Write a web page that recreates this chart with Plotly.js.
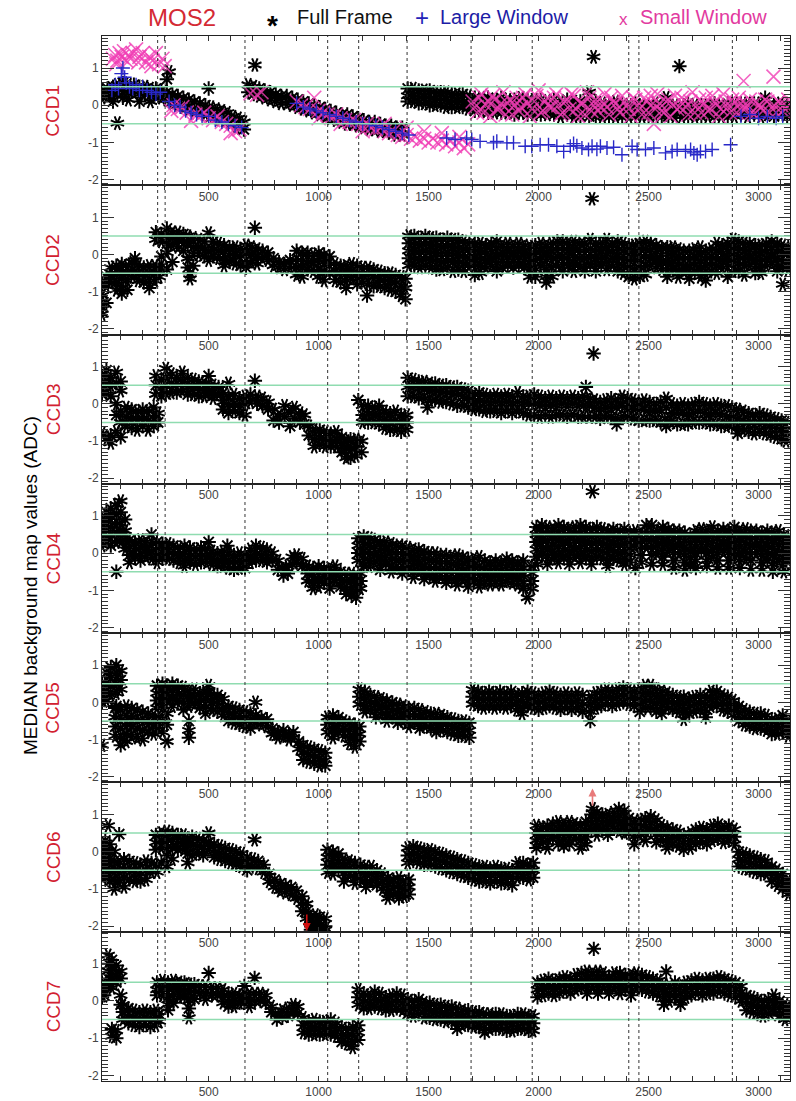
<!DOCTYPE html>
<html><head><meta charset="utf-8">
<script src="https://cdn.plot.ly/plotly-3.0.1.min.js"></script>
<style>html,body{margin:0;padding:0;background:#fff}#chart{width:796px;height:1101px}</style>
</head><body><div id="chart"></div>
<script>
// ---------------- data ----------------
const ccdNames = ['CCD1','CCD2','CCD3','CCD4','CCD5','CCD6','CCD7'];
const revBoundaries = [268, 302, 665, 1041, 1182, 1402, 1693, 1971, 2410, 2456, 2881];
const limitLines = [0.5, -0.5];
const yTickVals = [-2, -1, 0, 1];
const yTickText = ['-2', '-1', '0', '1'];

// Full Frame (black asterisks): x columns and the y values seen in each column
const ffX1 = [15,40,65,85,110,135,160,185,210,235,260,
  285,310,320,335,360,385,410,435,460,485,500,510,535,560,585,610,635,660,
  680,705,710,730,755,780,805,830,855,880,905,930,955,980,1005,1030,1055,1080,1105,1130,1155,1180,1205,1230,1255,1280,1305,1330,1355,1380,
  1405,1430,1455,1480,1505,1530,1555,1580,1605,1630,1655,1680,
  1710,1740,1770,1800,1830,1860,1890,1920,1950,1980,2010,2040,2070,2100,2130,2160,2190,2230,2250,2260,2290,2320,2350,2380,2410,2440,2470,2500,2530,2560,2580,2590,2620,2640,2650,2680,2710,2740,2770,2800,2830,2860,2890,2920,2950,2980,3010,3030,3040,3070,3100,3130];
const ffY1 = [[0.4,0.2],[0.45,0.25],[0.5,0.3,0.1],[0.55,0.3,-0.48],[0.6,0.4,0.2],[0.55,0.35,0.15],[0.55,0.35],[0.5,0.3,0.1],[0.5,0.3],[0.45,0.25,0.1],[0.45,0.25],
  [0.4,0.2],[0.35,0.15,0.7],[0.9],[0.3,0.05],[0.25,0.0],[0.2,-0.05],[0.15,-0.1],[0.1,-0.15],[0.05,-0.2],[0.0,-0.25],[0.45],[-0.05,-0.3],[-0.1,-0.35],[-0.15,-0.4],[-0.2,-0.45],[-0.3,-0.5],[-0.35,-0.6],[-0.45,-0.65],
  [0.55,0.35],[0.5,0.3],[1.08],[0.45,0.25],[0.4,0.2],[0.35,0.15],[0.3,0.1],[0.25,0.05],[0.25,0.05],[0.2,0.0],[0.15,-0.05],[0.1,-0.1],[0.05,-0.15],[0.0,-0.2],[-0.05,-0.25],[-0.1,-0.3],[-0.15,-0.35],[-0.2,-0.4],[-0.25,-0.45],[-0.25,-0.5],[-0.3,-0.5],[-0.35,-0.55],[-0.4,-0.6],[-0.45,-0.65],[-0.45,-0.65],[-0.5,-0.7],[-0.55,-0.7],[-0.55,-0.75],[-0.6,-0.8],[-0.6,-0.8],
  [0.45,0.25,0.1],[0.45,0.25,0.1],[0.4,0.2,0.05],[0.4,0.2,0.05],[0.4,0.2,0.0],[0.35,0.15,0.0],[0.35,0.15,0.0],[0.35,0.15,-0.05],[0.3,0.1,-0.05],[0.3,0.1,-0.05],[0.3,0.1,-0.05],[0.25,0.05,-0.1],
  [0.2,0.0,-0.15],[0.2,0.0,-0.15],[0.2,0.0,-0.2],[0.15,-0.05,-0.2],[0.2,0.0,-0.2],[0.15,-0.05,-0.2],[0.15,-0.05,-0.25],[0.2,0.0,-0.2],[0.15,-0.05,-0.25],[0.15,-0.05,-0.25],[0.15,-0.05,-0.25],[0.1,-0.1,-0.25],[0.15,-0.05,-0.25],[0.1,-0.1,-0.3],[0.15,-0.05,-0.25],[0.1,-0.1,-0.3],[0.1,-0.1,-0.3],[0.35,0.05,-0.15,-0.3],[1.3],[0.1,-0.1,-0.3],[0.05,-0.1,-0.3],[0.05,-0.15,-0.3],[0.1,-0.1,-0.3],[0.05,-0.15,-0.3],[0.0,-0.15,-0.3],[0.05,-0.15,-0.3],[0.0,-0.15,-0.3],[0.0,-0.15,-0.3],[0.05,-0.1,-0.3],[0.0,-0.15,-0.3],[0.2],[0.0,-0.15,-0.3],[0.0,-0.15,-0.3],[1.05],[0.0,-0.15,-0.3],[0.05,-0.1,-0.3],[0.0,-0.15,-0.3],[0.0,-0.15,-0.3],[0.0,-0.15,-0.3],[0.05,-0.1,-0.3],[0.0,-0.15,-0.3],[0.05,-0.15,-0.3],[0.05,-0.1,-0.3],[0.05,-0.1,-0.25],[0.05,-0.1,-0.3],[0.05,-0.1,-0.25],[0.05,-0.1,-0.3],[0.2],[0.05,-0.1,-0.25],[0.0,-0.15,-0.3],[0.05,-0.1,-0.25],[0.0,-0.15,-0.3]];

const ffX2 = [15,35,55,80,105,130,155,165,180,205,230,255,275,
  260,285,310,335,360,385,405,415,430,455,480,500,520,545,570,595,620,645,670,695,710,720,745,770,795,820,845,870,
  900,925,950,975,1000,1025,1050,1075,1100,1125,1150,1175,1200,1220,1225,1250,1275,1300,1325,1350,1375,1395,
  1410,1435,1460,1485,1510,1535,1560,1585,1610,1635,1660,1685,
  1710,1735,1760,1785,1810,1835,1860,1885,1910,1935,1960,1985,2010,2035,2060,2085,
  2110,2135,2160,2185,2210,2235,2243,2260,2285,2310,2335,2360,2385,2410,2435,
  2460,2485,2510,2535,2560,2585,2610,2635,2660,2685,2710,2735,2760,2785,
  2810,2835,2860,2885,2910,2935,2960,2985,3010,3035,3060,3085,3110,3135];
const ffY2 = [[-0.8,-1.1,-1.4,-1.6],[-0.6,-0.85,-1.3],[-0.35,-0.55,-0.75],[-0.3,-0.5,-0.75,-0.95],[-0.25,-0.45,-0.65,-0.9,-1.05],[-0.3,-0.5,-0.7,-0.95],[-0.2,-0.4,-0.6],[-0.1],[-0.3,-0.5,-0.7],[-0.35,-0.55,-0.75],[-0.3,-0.5,-0.75,-0.9],[-0.3,-0.5,-0.7],[-0.4,-0.6],
  [0.6,0.4],[0.55,0.35,-0.05,-0.3],[0.7,0.5,0.3,0.05,-0.4],[0.6,0.45,0.25,-0.2],[0.6,0.4,0.2],[0.55,0.35,0.1],[0.5,0.3,-0.1,-0.35],[-0.65,-0.5],[0.45,0.2,0.0,-0.3],[0.4,0.2,0.0],[0.35,0.15,-0.05],[0.58,0.1,-0.15],[0.35,0.15,-0.05],[0.3,0.1,-0.1],[0.25,0.05,-0.15,-0.3],[0.2,0.0,-0.2],[0.2,0.0,-0.25],[0.15,-0.05,-0.3],[0.25,0.05,-0.2,-0.35],[0.2,0.0,-0.2],[0.72],[0.15,-0.05,-0.25],[0.1,-0.1],[0.05,-0.15],[-0.1,-0.3],[-0.2,-0.35],[-0.25,-0.4],[-0.15,-0.35],
  [0.1,-0.15,-0.35,-0.55],[0.05,-0.15,-0.35,-0.6],[0.05,-0.2,-0.4],[0.0,-0.2,-0.45],[0.05,-0.15,-0.4,-0.6],[0.0,-0.2,-0.45,-0.7],[-0.05,-0.25,-0.5],[-0.25,-0.45,-0.7],[-0.3,-0.5,-0.75],[-0.3,-0.5,-0.7,-0.9],[-0.25,-0.45,-0.65],[-0.3,-0.55,-0.8],[-0.35,-0.55,-0.75],[-1.1],[-0.35,-0.55,-0.8],[-0.4,-0.6,-0.85],[-0.45,-0.65,-0.85],[-0.5,-0.7,-0.9],[-0.5,-0.7,-0.95],[-0.55,-0.75,-1.0],[-0.6,-0.85,-1.1],[-0.65,-0.9,-1.2],
  [0.5,0.3,0.1,-0.1,-0.3],[0.5,0.3,0.1,-0.1,-0.3],[0.45,0.25,0.05,-0.15,-0.35],[0.5,0.3,0.1,-0.1,-0.3],[0.45,0.25,0.05,-0.15,-0.35],[0.45,0.25,0.05,-0.15,-0.4],[0.4,0.2,0.0,-0.2,-0.4],[0.45,0.25,0.05,-0.15,-0.35],[0.4,0.2,0.0,-0.2,-0.45],[0.4,0.2,0.0,-0.2,-0.4],[0.35,0.15,-0.05,-0.25,-0.45],[0.3,0.1,-0.1,-0.3],
  [0.3,0.1,-0.1,-0.3,-0.55],[0.3,0.1,-0.1,-0.3,-0.5],[0.25,0.05,-0.15,-0.35],[0.3,0.1,-0.1,-0.3],[0.35,0.15,-0.05,-0.25,-0.45],[0.25,0.05,-0.15,-0.35],[0.3,0.1,-0.1,-0.3],[0.25,0.05,-0.15,-0.35],[0.3,0.1,-0.1,-0.3],[0.25,0.05,-0.15,-0.35],[0.2,0.0,-0.2,-0.4,-0.6],[0.25,0.05,-0.15,-0.4,-0.6],[0.3,0.1,-0.1,-0.3],[0.25,0.05,-0.15,-0.4,-0.6,-0.75],[0.3,0.1,-0.1,-0.35,-0.6],[0.35,0.15,-0.05,-0.3],
  [0.35,0.15,-0.05,-0.25,-0.45],[0.3,0.1,-0.1,-0.3],[0.35,0.15,-0.05,-0.25,-0.45],[0.3,0.1,-0.1,-0.3],[0.3,0.1,-0.1,-0.3,-0.45],[0.4,0.15,-0.05,-0.25],[1.5],[0.3,0.1,-0.1,-0.3,-0.45],[0.3,0.1,-0.1,-0.3],[0.4,0.2,0.0,-0.2,-0.4],[0.3,0.1,-0.1,-0.3],[0.35,0.15,-0.05,-0.25,-0.45],[0.3,0.1,-0.1,-0.3,-0.5],[0.25,0.05,-0.15,-0.35,-0.6],[0.25,0.05,-0.15,-0.4,-0.65],
  [0.3,0.1,-0.1,-0.35,-0.6],[0.35,0.15,-0.05,-0.3,-0.55],[0.3,0.1,-0.1,-0.3],[0.25,0.05,-0.15,-0.35],[0.2,0.0,-0.2,-0.4],[0.2,0.0,-0.2,-0.4,-0.6],[0.2,0.0,-0.2,-0.4],[0.15,-0.05,-0.25,-0.45,-0.6],[0.1,-0.1,-0.3,-0.45],[0.1,-0.1,-0.3,-0.5,-0.65],[0.15,-0.05,-0.25,-0.45],[0.2,0.0,-0.2,-0.4,-0.6],[0.1,-0.1,-0.3,-0.5,-0.7],[0.15,-0.05,-0.25,-0.45],
  [0.3,0.1,-0.1,-0.3,-0.5],[0.25,0.05,-0.15,-0.35],[0.3,0.1,-0.1,-0.3,-0.6],[0.4,0.2,0.0,-0.2,-0.45],[0.35,0.15,-0.05,-0.25,-0.45],[0.3,0.1,-0.1,-0.3,-0.55],[0.3,0.1,-0.1,-0.3],[0.25,0.05,-0.15,-0.35,-0.5],[0.25,0.05,-0.15,-0.35,-0.5],[0.3,0.1,-0.1,-0.3],[0.35,0.15,-0.05,-0.25],[0.3,0.1,-0.1,-0.3,-0.45],[0.25,0.05,-0.15,-0.35,-0.8],[0.2,0.0,-0.2,-0.4]];

const ffX3 = [15,35,55,80,100,125,150,175,200,225,250,270,
  260,285,305,330,355,380,405,430,455,480,500,520,545,
  565,590,615,640,665,690,710,720,745,770,795,820,845,870,890,915,935,
  955,980,1005,1030,1055,1080,1105,1125,1145,1170,1180,1195,
  1200,1225,1250,1275,1300,1325,1350,1375,1400,
  1405,1430,1455,1480,1495,1505,1530,1555,1580,1605,1630,1655,1680,
  1705,1730,1755,1780,1805,1830,1855,1880,1905,1930,1955,1980,2005,2030,2055,2080,2105,2130,2155,2180,2205,2215,2230,2250,2255,2280,2305,
  2330,2355,2380,2405,2430,2455,2480,2505,2530,2555,2580,2605,2630,2655,2680,2705,2730,2755,2780,2805,2830,2855,2880,2905,2930,2955,2980,3005,3030,3055,3080,3105,3125];
const ffY3 = [[0.75,0.45,0.25,-0.8],[0.9,0.6,0.3,-0.95],[0.7,0.5,0.2,-1.05,-0.85],[0.85,0.55,0.0,-0.3,-0.75],[0.6,0.35,-0.2,-0.5,-0.9],[-0.1,-0.35,-0.6],[-0.15,-0.4,-0.65],[-0.2,-0.45,-0.7],[-0.15,-0.4,-0.6],[-0.2,-0.45,-0.7],[-0.1,-0.35,-0.6],[-0.25,-0.5],
  [0.75,0.5,0.25],[0.65,0.4,0.2],[0.95,0.7,0.45,0.25],[0.8,0.55,0.3],[0.7,0.5,0.3],[0.85,0.6,0.35],[0.7,0.45,0.25],[0.65,0.45,0.25],[0.6,0.4,0.2],[0.55,0.35,0.2],[0.75,0.5,0.3],[0.5,0.3,0.15],[0.45,0.25],
  [0.3,0.05,-0.15],[0.55,0.2,-0.05,-0.25],[0.25,0.0,-0.2],[0.15,-0.05,-0.25],[0.2,0.0,-0.3],[0.25,0.05],[0.62],[0.2,0.0],[0.15,-0.05],[0.05,-0.15],[-0.15,-0.45],[-0.3,-0.5],[-0.05,-0.35],[-0.2,-0.6],[-0.1,-0.4],[-0.25,-0.5],[-0.3,-0.55],
  [-0.6,-0.85],[-0.7,-0.95,-1.15],[-0.7,-0.9,-1.1],[-0.75,-0.95,-1.15],[-0.8,-1.0,-1.15],[-0.75,-0.95,-1.15],[-0.9,-1.1,-1.3],[-1.0,-1.2,-1.45],[-0.95,-1.2,-1.45],[-0.95,-1.15,-1.4],[0.1],[-1.0,-1.3],
  [-0.05,-0.3,-0.5],[-0.05,-0.25,-0.5],[-0.1,-0.3,-0.5],[-0.05,-0.3,-0.55],[-0.2,-0.45,-0.65],[-0.25,-0.45,-0.7],[-0.2,-0.45,-0.7],[-0.3,-0.5,-0.75],[-0.3,-0.5,-0.7],
  [0.7,0.45,0.2],[0.65,0.45,0.2],[0.6,0.4,0.15],[0.6,0.4,0.15],[-0.1],[0.55,0.35,0.1],[0.55,0.35,0.1],[0.5,0.3,0.05],[0.5,0.3,0.05],[0.45,0.25,0.0],[0.45,0.25,-0.05],[0.4,0.2,-0.05],[0.35,0.15,-0.1],
  [0.25,0.05,-0.15],[0.3,0.1,-0.15],[0.25,0.05,-0.2],[0.2,0.0,-0.2],[0.25,0.05,-0.2],[0.2,0.0,-0.25],[0.25,0.05,-0.2],[0.2,0.0,-0.25],[0.3,0.05,-0.2],[0.2,0.0,-0.25],[0.2,0.0,-0.3],[0.25,0.0,-0.3],[0.2,-0.05,-0.35],[0.15,-0.05,-0.3],[0.2,-0.05,-0.35],[0.15,-0.05,-0.3],[0.2,0.0,-0.3],[0.15,-0.05,-0.35],[0.2,0.0,-0.3],[0.15,-0.05,-0.35],[0.2,-0.05,-0.35],[0.45],[0.15,-0.05,-0.35],[1.35],[0.1,-0.1,-0.35],[0.05,-0.15,-0.4],[0.1,-0.1,-0.35],
  [0.15,-0.1,-0.35],[0.1,-0.1,-0.4,-0.55],[0.2,-0.05,-0.35],[0.15,-0.1,-0.35],[0.1,-0.15,-0.4],[0.05,-0.15,-0.45],[0.1,-0.15,-0.45],[0.05,-0.2,-0.45],[0.0,-0.2,-0.45],[0.05,-0.2,-0.5],[0.15,-0.1,-0.4,-0.6],[0.0,-0.25,-0.5],[-0.05,-0.25,-0.55],[0.0,-0.25,-0.55],[-0.05,-0.3,-0.55],[0.0,-0.25,-0.5],[0.05,-0.2,-0.5],[0.0,-0.25,-0.5],[-0.05,-0.3,-0.55],[0.0,-0.25,-0.55],[-0.05,-0.3,-0.6],[-0.05,-0.35,-0.6],[-0.1,-0.35,-0.6],[-0.15,-0.4,-0.65,-0.8],[-0.2,-0.45,-0.7],[-0.25,-0.5,-0.75],[-0.3,-0.55,-0.8],[-0.25,-0.5,-0.75],[-0.3,-0.55,-0.8],[-0.35,-0.6,-0.85],[-0.4,-0.65,-0.9],[-0.45,-0.7,-0.95],[-0.5,-0.75,-1.0]];

const ffX4 = [15,35,55,80,100,120,
  140,165,190,215,240,265,290,315,340,365,390,415,440,465,490,500,515,540,
  565,585,590,615,640,665,690,715,740,765,790,815,840,860,880,900,925,
  950,975,1000,1025,1050,1075,1100,1125,1150,1170,1190,
  1180,1205,1230,1255,1280,1305,1330,1355,1380,1405,
  1430,1455,1480,1505,1530,1555,1580,1605,1630,1655,1680,1705,1730,1755,1780,1805,1830,1855,1880,1905,1930,1950,1970,
  1990,2015,2040,2065,2090,2115,2140,2165,2190,2215,2240,2245,2265,2290,2315,2340,2365,2390,2415,
  2440,2465,2490,2515,2540,2565,2590,2615,2640,2665,
  2690,2715,2740,2765,2790,2815,2840,2865,2890,2915,2940,2965,2990,3015,3040,3065,3090,3115,3135];
const ffY4 = [[0.9,0.65,0.45,0.2],[1.1,0.85,0.6,0.35],[1.2,0.95,0.7,0.45,0.2],[1.3,1.05,0.8,0.55,0.3,-0.5],[1.4,1.1,0.8,0.55,0.3],[0.9,0.6,0.35,0.1],
  [0.35,0.15,-0.05,-0.25],[0.3,0.1,-0.1],[0.35,0.15,-0.05,-0.2],[0.3,0.1,-0.1],[0.5,0.25,0.05,-0.15],[0.3,0.1,-0.1,-0.25],[0.25,0.05,-0.15],[0.25,0.05,-0.15],[0.2,0.0,-0.2],[0.15,-0.05,-0.25],[0.2,0.0,-0.2,-0.35],[0.15,-0.05,-0.25],[0.1,-0.1,-0.3],[0.15,-0.05,-0.25],[0.1,-0.1,-0.25],[0.3],[0.05,-0.15,-0.3],[0.0,-0.2,-0.35],
  [0.05,-0.15,-0.35],[0.2],[0.0,-0.2,-0.4],[-0.05,-0.25,-0.45],[0.0,-0.2,-0.4],[-0.05,-0.25,-0.4],[0.1,-0.1,-0.25],[0.2,0.0,-0.2],[0.15,-0.05,-0.2],[0.1,-0.1,-0.25],[0.0,-0.2],[-0.2,-0.45],[-0.4,-0.6],[-0.35,-0.55],[-0.1,-0.3],[-0.05,-0.25],[-0.15,-0.35],
  [-0.35,-0.55,-0.75],[-0.4,-0.6,-0.8,-0.95],[-0.35,-0.55,-0.75,-0.9],[-0.4,-0.6,-0.8],[-0.4,-0.6,-0.8,-0.95],[-0.35,-0.55,-0.75],[-0.5,-0.7,-0.9],[-0.55,-0.75,-0.95,-1.1],[-0.55,-0.75,-0.95,-1.15],[-0.6,-0.8,-1.0,-1.2],[-0.55,-0.75,-0.95],
  [0.4,0.2,0.0,-0.2],[0.45,0.25,0.05,-0.15,-0.35],[0.4,0.2,0.0,-0.2,-0.35],[0.35,0.15,-0.05,-0.25],[0.3,0.1,-0.1,-0.3,-0.45],[0.3,0.1,-0.1,-0.3],[0.25,0.05,-0.15,-0.35,-0.5],[0.2,0.0,-0.2,-0.4],[0.2,0.0,-0.2,-0.4,-0.55],[0.15,-0.05,-0.25,-0.45],
  [0.1,-0.1,-0.3,-0.5,-0.65],[0.1,-0.1,-0.3,-0.5],[0.05,-0.15,-0.35,-0.55,-0.7],[0.0,-0.2,-0.4,-0.6],[0.0,-0.2,-0.4,-0.6,-0.75],[-0.05,-0.25,-0.45,-0.65],[-0.05,-0.25,-0.45,-0.65,-0.8],[-0.1,-0.3,-0.5,-0.7],[-0.05,-0.3,-0.5,-0.7,-0.85],[-0.1,-0.3,-0.5,-0.7],[-0.15,-0.35,-0.55,-0.75,-0.9],[-0.15,-0.35,-0.55,-0.75],[-0.1,-0.35,-0.55,-0.75,-0.9],[-0.2,-0.4,-0.6,-0.8],[-0.25,-0.45,-0.65,-0.85],[-0.2,-0.4,-0.6,-0.8],[-0.25,-0.45,-0.65,-0.85],[-0.15,-0.35,-0.55,-0.75],[-0.2,-0.4,-0.6,-0.8],[-0.25,-0.45,-0.65,-0.85],[-0.2,-0.4,-0.6,-0.8,-0.95],[-1.2],[-0.35,-0.55,-0.75,-0.95],
  [0.7,0.5,0.3,0.1,-0.1,-0.3],[0.75,0.55,0.35,0.15,-0.05],[0.7,0.5,0.3,0.1,-0.1,-0.3],[0.65,0.45,0.25,0.05,-0.15],[0.75,0.55,0.35,0.15,-0.05,-0.25],[0.7,0.5,0.3,0.1,-0.1],[0.65,0.45,0.25,0.05,-0.15,-0.3],[0.7,0.5,0.3,0.1,-0.1],[0.75,0.55,0.35,0.15,-0.05,-0.25],[0.7,0.5,0.3,0.1,-0.1],[0.65,0.45,0.25,0.05,-0.15,-0.3],[1.65],[0.7,0.5,0.3,0.1,-0.1],[0.65,0.45,0.25,0.05,-0.15],[0.6,0.4,0.2,0.0,-0.2,-0.35],[0.65,0.45,0.25,0.05,-0.15],[0.6,0.4,0.2,0.0,-0.2],[0.65,0.45,0.25,0.05,-0.15,-0.3],[0.55,0.35,0.15,-0.05,-0.25],
  [0.6,0.4,0.2,-0.4],[0.55,0.35,0.15,-0.05,-0.25],[0.75,0.55,0.35,0.15],[0.75,0.55,0.35,0.15,-0.05,-0.3],[0.6,0.4,0.2,0.0],[0.7,0.5,0.3,0.1,-0.1,-0.3],[0.65,0.45,0.25,0.05],[0.6,0.4,0.2,0.0,-0.2,-0.4],[0.6,0.4,0.2,0.0],[0.55,0.35,0.15,-0.05,-0.25,-0.45],
  [0.45,0.25,0.05,-0.15,-0.35],[0.6,0.4,0.2,0.0,-0.2,-0.4],[0.65,0.45,0.25,0.05],[0.6,0.4,0.2,0.0,-0.2,-0.35],[0.7,0.5,0.3,0.1,-0.1],[0.6,0.4,0.2,0.0,-0.2,-0.4],[0.65,0.45,0.25,0.05],[0.6,0.4,0.2,0.0,-0.2,-0.4],[0.7,0.5,0.3,0.1,-0.1],[0.6,0.4,0.2,0.0,-0.2,-0.4],[0.65,0.45,0.25,0.05,-0.15],[0.6,0.4,0.2,0.0,-0.2,-0.45],[0.6,0.4,0.2,0.0],[0.55,0.35,0.15,-0.05,-0.25,-0.45],[0.6,0.4,0.2,0.0,-0.2],[0.55,0.35,0.15,-0.05,-0.3,-0.5],[0.6,0.4,0.2,0.0,-0.2],[0.5,0.3,0.1,-0.1,-0.3,-0.5],[0.4,0.2,0.0,-0.2]];

const ffX5 = [15,35,55,80,100,
  75,100,125,150,175,200,225,250,270,
  265,290,310,335,360,385,410,435,460,485,500,515,540,
  565,590,615,640,665,690,713,715,740,765,790,815,840,865,885,
  910,930,955,980,1005,1030,1040,1065,1090,1115,1140,1165,1185,
  1185,1210,1235,1260,1285,1310,1335,1360,1385,1410,1435,1460,1485,1510,1535,1560,1585,1610,1635,1660,1685,
  1700,1725,1750,1775,1800,1825,1850,1875,1900,1925,1950,1975,2000,2025,2050,2075,2100,2125,2150,2175,2200,2235,
  2260,2285,2310,2335,2360,2385,2410,2435,
  2460,2485,2510,2535,2560,2585,2610,2635,
  2660,2685,2710,2735,2760,2785,2810,2835,2860,
  2885,2910,2935,2960,2985,3010,3035,3060,3085,3110,3135];
const ffY5 = [[0.5,0.25,0.0,-1.15],[0.8,0.55,0.3,0.05],[0.95,0.7,0.45,0.2],[1.0,0.75,0.5,0.25,-0.1],[0.85,0.6,0.35],
  [-0.15,-0.4,-0.65,-0.9],[-0.2,-0.45,-0.7,-0.95,-1.15],[-0.1,-0.35,-0.6,-0.85,-1.05],[-0.15,-0.4,-0.65,-0.9],[-0.2,-0.45,-0.7,-0.95],[-0.25,-0.5,-0.75,-1.0],[-0.3,-0.55,-0.8],[-0.35,-0.6,-0.85],[-0.4,-0.65],
  [0.45,0.25,0.05,-0.15],[0.5,0.3,0.1,-0.1,-0.5,-0.8],[0.45,0.25,0.05,-0.3,-0.6,-1.05],[0.5,0.3,0.1,-0.1],[0.45,0.25,0.05],[0.4,0.2,0.0,-0.2],[0.3,0.1,-0.1,-0.5,-0.75,-0.95],[0.35,0.15,-0.05],[0.25,0.05,-0.15],[0.3,0.1,-0.1,-0.3],[0.45,0.25],[0.2,0.0,-0.2],[0.2,0.0,-0.25],
  [0.1,-0.15,-0.35],[-0.1,-0.3,-0.5],[-0.15,-0.35,-0.55],[-0.2,-0.4,-0.6],[-0.25,-0.45,-0.65],[-0.3,-0.5,-0.7],[0.0],[-0.35,-0.55],[-0.4,-0.6],[-0.45,-0.65],[-0.7,-0.85],[-0.8,-0.95],[-0.75,-0.9],[-0.85,-1.0],[-0.8,-0.95],
  [-1.05,-1.25],[-1.15,-1.35,-1.55],[-1.2,-1.4,-1.6],[-1.25,-1.45,-1.65],[-1.3,-1.5,-1.7],[-1.35,-1.55,-1.7],[-0.4,-0.6,-0.8],[-0.35,-0.55,-0.75,-0.95],[-0.4,-0.6,-0.8],[-0.5,-0.7,-0.9],[-0.55,-0.75,-0.95,-1.1],[-0.6,-0.8,-1.0,-1.2],[-0.65,-0.85,-1.05],
  [0.35,0.15,-0.05],[0.3,0.1,-0.1,-0.25],[0.2,0.0,-0.2],[0.15,-0.05,-0.25,-0.4],[0.1,-0.1,-0.3],[0.05,-0.15,-0.35,-0.5],[0.0,-0.2,-0.4],[-0.05,-0.25,-0.45,-0.55],[-0.1,-0.3,-0.5],[-0.15,-0.35,-0.55,-0.65],[-0.15,-0.35,-0.55],[-0.2,-0.4,-0.6,-0.7],[-0.25,-0.45,-0.65],[-0.3,-0.5,-0.7],[-0.3,-0.5,-0.7,-0.8],[-0.35,-0.55,-0.75],[-0.4,-0.6,-0.8],[-0.45,-0.65,-0.85],[-0.5,-0.7,-0.9],[-0.5,-0.7,-0.9],[-0.55,-0.75,-0.95],
  [0.35,0.15,-0.05],[0.3,0.1,-0.1],[0.25,0.05,-0.15],[0.3,0.1,-0.1],[0.25,0.05,-0.15],[0.3,0.1,-0.1],[0.25,0.05,-0.15],[0.3,0.1,-0.1],[0.2,0.0,-0.2],[0.25,0.05,-0.15,-0.3],[0.3,0.1,-0.1],[0.25,0.05,-0.15],[0.2,0.0,-0.2],[0.25,0.05,-0.15],[0.3,0.1,-0.1],[0.25,0.05,-0.15],[0.2,0.0,-0.2],[0.25,0.05,-0.15],[0.2,0.0,-0.2],[0.25,0.05,-0.15],[0.2,-0.05,-0.25],[0.15,-0.05,-0.25,-0.5],
  [0.25,0.05,-0.15],[0.3,0.1,-0.1],[0.35,0.15,-0.05],[0.3,0.1,-0.1],[0.35,0.15,-0.05],[0.4,0.2,0.0],[0.35,0.15,-0.05],[0.3,0.1,-0.1],
  [0.35,0.15,-0.05,-0.25],[0.45,0.25,0.05,-0.15],[0.45,0.25,0.05,-0.15],[0.35,0.15,-0.05,-0.25],[0.3,0.1,-0.1,-0.3],[0.25,0.05,-0.15],[0.2,0.0,-0.2],[0.15,-0.05,-0.25],
  [0.15,-0.05,-0.25,-0.45],[0.1,-0.1,-0.3],[0.15,-0.05,-0.25],[0.2,0.0,-0.2],[0.15,-0.05,-0.25,-0.4],[0.3,0.1,-0.1],[0.3,0.1,-0.1],[0.2,0.0,-0.2],[0.15,-0.05,-0.25],
  [0.05,-0.15,-0.35],[-0.1,-0.3,-0.5],[-0.2,-0.4,-0.6],[-0.25,-0.45,-0.65],[-0.3,-0.5,-0.7],[-0.3,-0.5,-0.7],[-0.35,-0.55,-0.75],[-0.45,-0.65,-0.85],[-0.45,-0.65,-0.85],[-0.35,-0.55,-0.8],[-0.5,-0.7,-0.9]];

const ffX6 = [15,30,43,50,70,93,
  115,140,165,190,215,240,265,
  260,285,310,335,360,385,405,425,450,475,500,525,
  550,575,600,625,650,675,700,709,725,750,
  775,800,825,850,875,900,925,945,
  965,985,1005,1030,
  1040,1065,1090,1115,1140,1165,1190,1215,1240,1265,1290,1315,1340,1365,1390,1410,
  1405,1430,1455,1480,1505,1530,1555,1580,1605,1630,1655,1680,
  1705,1730,1755,1780,1805,1830,1855,1880,1905,1930,1955,1975,
  1990,2015,2040,2065,2090,2115,2140,2165,2190,2215,
  2240,2245,2265,2290,2315,2340,2365,2390,2410,
  2435,2460,2485,2510,2535,2560,2585,2610,2635,2660,
  2690,2715,2740,2765,2790,2815,2840,2865,2890,
  2910,2935,2960,2985,3010,3035,3060,3085,3110,3135];
const ffY6 = [[0.1,-0.15,-0.4,-0.65],[0.3,0.05,-0.2,-0.45,-0.7],[0.7],[0.2,-0.05,-0.3,-0.55,-0.8],[0.0,-0.25,-0.5,-0.75,-1.0],[0.47,-0.3,-0.55,-0.8],
  [-0.2,-0.45,-0.7,-0.95],[-0.25,-0.5,-0.75],[-0.3,-0.55,-0.8],[-0.35,-0.6,-0.8],[-0.25,-0.5,-0.75],[-0.3,-0.55],[-0.35,-0.55],
  [0.45,0.25,0.05],[0.5,0.3,0.1,-0.3],[0.55,0.35,0.15,-0.1,-0.4],[0.5,0.3,0.1,-0.2],[0.45,0.25,0.05],[0.45,0.25,0.05],[0.35,0.15,-0.05,-0.3],[0.4,0.2,-0.1],[0.35,0.15,-0.05],[0.3,0.1,-0.1],[0.5,0.25,0.05],[0.2,0.0,-0.15],
  [0.15,-0.05,-0.2],[0.1,-0.1,-0.25],[0.05,-0.15,-0.3],[0.0,-0.2,-0.35],[-0.05,-0.25,-0.4],[-0.15,-0.35,-0.5],[-0.2,-0.4],[0.32],[-0.25,-0.45],[-0.35,-0.55],
  [-0.6,-0.8],[-0.75,-0.95],[-0.85,-1.05],[-0.9,-1.1],[-0.95,-1.15],[-1.05,-1.25],[-1.2,-1.4,-1.6],[-1.4,-1.6,-1.8],
  [-1.75,-1.95,-2.1],[-1.7,-1.9,-2.1],[-1.75,-1.95,-2.1],[-1.8,-2.0,-2.1],
  [0.05,-0.15,-0.35,-0.55],[0.0,-0.2,-0.4,-0.6],[-0.05,-0.25,-0.45],[-0.2,-0.4,-0.6,-0.8],[-0.25,-0.45,-0.65],[-0.3,-0.5,-0.7,-0.85],[-0.35,-0.55,-0.75],[-0.4,-0.6,-0.8,-0.95],[-0.4,-0.6,-0.8],[-0.5,-0.7,-0.9],[-0.6,-0.8,-1.0],[-0.7,-0.9,-1.1,-1.25],[-0.75,-0.95,-1.15],[-0.7,-0.9,-1.1,-1.25],[-0.8,-1.0,-1.2],[-0.75,-0.95,-1.15],
  [0.1,-0.1,-0.3],[0.15,-0.05,-0.25],[0.1,-0.1,-0.3],[0.05,-0.15,-0.35],[0.05,-0.15,-0.35],[0.0,-0.2,-0.4],[-0.05,-0.25,-0.45],[-0.1,-0.3,-0.5],[-0.15,-0.35,-0.55],[-0.2,-0.4,-0.6],[-0.25,-0.45,-0.65],[-0.3,-0.5,-0.7],
  [-0.35,-0.55,-0.75],[-0.4,-0.6,-0.8],[-0.4,-0.6,-0.8],[-0.45,-0.65,-0.85],[-0.4,-0.6,-0.8],[-0.45,-0.65,-0.85],[-0.45,-0.65,-0.85],[-0.5,-0.7,-0.9],[-0.3,-0.5,-0.7],[-0.3,-0.5,-0.7],[-0.35,-0.55,-0.75],[-0.3,-0.5,-0.7],
  [0.7,0.5,0.3,0.1],[0.65,0.45,0.25],[0.7,0.5,0.3,0.1],[0.75,0.55,0.35],[0.8,0.6,0.4,0.2],[0.75,0.55,0.35,0.15],[0.8,0.6,0.4,0.2],[0.75,0.55,0.35],[0.7,0.5,0.3,0.1],[0.8,0.6,0.4,0.2],
  [1.0,0.8,0.6],[1.15],[1.05,0.85,0.65,0.45],[1.0,0.8,0.6],[1.0,0.8,0.6,0.45],[1.05,0.85,0.65],[1.15,0.95,0.75,0.55],[1.1,0.9,0.7,0.5],[0.9,0.7,0.5],
  [0.8,0.6,0.4,0.2],[0.85,0.65,0.45],[0.9,0.7,0.5,0.3],[0.95,0.75,0.55],[0.85,0.65,0.45,0.25],[0.7,0.5,0.3],[0.65,0.45,0.25,0.1],[0.6,0.4,0.2],[0.55,0.35,0.15],[0.45,0.25,0.05],
  [0.5,0.3,0.1],[0.6,0.4,0.2],[0.65,0.45,0.25],[0.6,0.4,0.2],[0.7,0.5,0.3],[0.75,0.55,0.35],[0.65,0.45,0.25],[0.7,0.5,0.3],[0.6,0.4,0.2],
  [0.0,-0.2,-0.4],[-0.05,-0.25,-0.45],[-0.1,-0.3,-0.5],[-0.15,-0.35,-0.55],[-0.2,-0.4,-0.6],[-0.25,-0.45,-0.6],[-0.4,-0.6,-0.8],[-0.5,-0.7,-0.9],[-0.6,-0.8,-1.0],[-0.75,-0.95,-1.15]];

const ffX7 = [15,25,43,45,60,80,100,
  110,135,160,185,210,235,260,275,
  265,290,315,340,365,390,410,435,460,485,500,515,540,
  565,590,615,640,662,685,709,710,735,760,
  785,810,835,860,885,905,
  930,955,980,1005,1030,1055,1080,1105,1130,1155,1180,
  1180,1205,1230,1255,1280,1305,1330,1355,1380,
  1405,1430,1455,1480,1505,1530,1555,1580,1605,1630,1655,1680,1705,1730,1755,1780,1805,1830,1855,1880,1905,1930,1955,1975,
  1995,2020,2045,2070,2095,2120,2145,2170,2195,2220,2245,2251,2270,2295,2320,2345,2370,2395,2420,2445,2470,2495,2520,2545,2580,
  2570,2595,2620,2645,2670,2695,2720,2745,2770,2795,2820,2845,2870,2895,2920,
  2945,2970,2995,3020,3045,3070,3095,3120,3140];
const ffY7 = [[0.5,0.3,0.1],[0.35,0.15],[1.23],[1.0,0.8,0.6,0.4],[1.1,0.85,0.6,0.35,-0.75,-0.95],[0.95,0.7,0.5,-0.8,-1.0],[0.8,0.6,0.15,-0.1],
  [-0.1,-0.3,-0.5],[-0.2,-0.4,-0.6],[-0.25,-0.45,-0.65],[-0.3,-0.5,-0.7],[-0.25,-0.45,-0.65],[-0.3,-0.5,-0.7],[-0.25,-0.45,-0.65],[-0.35,-0.55],
  [0.5,0.3,0.15],[0.55,0.35,0.15],[0.5,0.3,0.1,-0.1,-0.25],[0.55,0.35,0.15,-0.05],[0.5,0.3,0.1],[0.5,0.3,0.1],[0.45,0.25,0.0,-0.2,-0.45],[0.45,0.25,0.05],[0.4,0.2],[0.4,0.2,0.05],[0.75],[0.35,0.15],[0.35,0.15],
  [0.3,0.1,-0.05],[0.2,0.0,-0.15],[0.2,0.0,-0.15],[0.15,-0.05],[0.4,0.15,-0.05],[0.2,0.0,-0.15],[0.62],[0.2,0.0],[0.2,0.0],[0.15,-0.05],
  [-0.15,-0.3],[-0.35,-0.5],[-0.25,-0.45],[-0.2,-0.4],[-0.1,-0.3],[-0.15,-0.35],
  [-0.45,-0.65,-0.85],[-0.55,-0.75,-0.9],[-0.5,-0.7,-0.9],[-0.55,-0.75,-0.9],[-0.55,-0.75,-0.9],[-0.5,-0.7,-0.9],[-0.6,-0.8,-0.95],[-0.7,-0.9,-1.1],[-0.75,-0.95,-1.15],[-0.7,-0.9,-1.1,-1.25],[-0.65,-0.85,-1.05],
  [0.3,0.1,-0.1],[0.2,0.0,-0.2],[0.15,-0.05,-0.2],[0.25,0.05,-0.15],[0.2,0.0,-0.2],[0.1,-0.1,-0.25],[0.15,-0.05,-0.25],[0.2,0.0,-0.2],[0.15,-0.05,-0.25],
  [0.05,-0.15,-0.35],[0.0,-0.2,-0.4],[0.05,-0.15,-0.35],[-0.05,-0.25,-0.45],[-0.05,-0.25,-0.45],[-0.1,-0.3,-0.5],[-0.1,-0.3,-0.5],[-0.15,-0.35,-0.55],[-0.15,-0.35,-0.55],[-0.2,-0.4,-0.6,-0.75],[-0.25,-0.45,-0.65],[-0.25,-0.45,-0.65],[-0.3,-0.5,-0.7],[-0.3,-0.5,-0.7],[-0.35,-0.55,-0.75,-0.85],[-0.35,-0.55,-0.75],[-0.35,-0.55,-0.75],[-0.35,-0.55,-0.75],[-0.4,-0.6,-0.8],[-0.4,-0.6,-0.8],[-0.35,-0.55,-0.75],[-0.35,-0.55,-0.75],[-0.4,-0.6,-0.8],[-0.4,-0.6,-0.8],
  [0.5,0.3,0.1],[0.55,0.35,0.15],[0.6,0.4,0.2],[0.55,0.35,0.15],[0.6,0.4,0.2],[0.65,0.45,0.25],[0.6,0.4,0.2],[0.7,0.5,0.3],[0.75,0.55,0.35],[0.8,0.6,0.4,0.2],[0.75,0.55,0.35],[1.4],[0.8,0.6,0.4,0.2],[0.75,0.55,0.35],[0.6,0.4,0.2],[0.75,0.55,0.35],[0.75,0.55,0.35,0.2],[0.7,0.5,0.3],[0.7,0.5,0.3,0.15],[0.75,0.55,0.35],[0.7,0.5,0.3],[0.65,0.45,0.25],[0.6,0.4,0.2],[0.55,0.35,0.15],[0.79],
  [0.45,0.25,0.05,-0.1],[0.4,0.2,0.0],[0.5,0.3,0.1],[0.4,0.2,0.0,-0.1],[0.5,0.3,0.1],[0.55,0.35,0.15],[0.6,0.4,0.2],[0.55,0.35,0.15],[0.6,0.4,0.2],[0.6,0.4,0.2],[0.65,0.45,0.25],[0.6,0.4,0.2],[0.55,0.35,0.15],[0.5,0.3,0.1],[0.4,0.2,0.0],
  [0.15,-0.05,-0.25],[0.1,-0.1,-0.3],[0.05,-0.15,-0.35],[0.0,-0.2,-0.4],[0.05,-0.15,-0.35],[0.15,-0.05,-0.25],[0.0,-0.2,-0.4],[-0.1,-0.3,-0.5],[-0.2,-0.4]];

// CCD1 Small Window (magenta x)
const swX = [65,75,85,95,105,115,125,135,145,155,170,185,200,215,230,245,260,275,290,300,80,180,240,
  330,340,360,380,400,420,440,460,480,500,520,540,560,580,600,620,640,600,690,720,740,
  900,920,940,960,980,1000,1020,1040,1060,1080,1100,1120,1140,1160,1180,1200,1220,1240,1260,1280,1300,1320,1340,1360,1380,1400,1420,1440,1460,1480,1500,1520,1540,1560,1580,1600,1620,1640,1660,1680,1000,1100,1200,1300,1400,1480,1560,1640,
  1700,1720,1740,1760,1780,1800,1820,1840,1860,1880,1900,1920,1940,1960,1980,2000,2020,2040,2060,2080,2100,2120,2140,2160,2180,2200,2220,2240,2260,2280,2300,2320,2340,2360,2380,2400,2420,2440,2460,2480,2500,2520,2524,2540,2560,2580,2600,2620,2640,2660,2680,2700,2720,2740,2760,2780,2800,2820,2840,2860,2880,2900,2920,2932,2940,2960,2980,3000,3020,3040,3068,3080,3100,3120,3135,
  1710,1730,1750,1770,1790,1810,1830,1850,1870,1890,1910,1930,1950,1970,1990,2010,2030,2050,2070,2090,2110,2130,2150,2170,2190,2210,2230,2250,2270,2290,2310,2330,2350,2370,2390,2410,2430,2450,2470,2490,2510,2530,2550,2570,2590,2610,2630,2650,2670,2690,2710,2730,2750,2770,2790,2810,2830,2850,2870,2890,2910,2930,2950,2970,2990,3010,3030,3050,3070,3090,3110,3130];
const swY = [1.25,1.35,1.2,1.4,1.3,1.45,1.2,1.35,1.25,1.4,1.5,1.3,1.4,1.15,1.3,1.2,1.4,1.1,1.25,1.05,1.1,1.15,1.05,
  -0.15,0.0,-0.1,-0.05,-0.2,-0.42,-0.25,-0.3,-0.2,-0.35,-0.4,-0.3,-0.45,-0.5,-0.55,-0.7,-0.65,-0.75,0.32,0.28,0.35,
  0.1,0.0,-0.05,-0.1,0.2,-0.15,-0.2,-0.25,-0.3,-0.25,-0.35,-0.4,-0.45,-0.4,-0.5,-0.55,-0.5,-0.6,-0.65,-0.6,-0.7,-0.75,-0.7,-0.8,-0.85,-0.8,-0.9,-0.85,-0.95,-0.9,-1.0,-0.9,-1.0,-0.95,-1.05,-0.95,-1.1,-1.0,-1.15,-1.05,-0.35,-0.5,-0.7,-0.5,-0.6,-0.7,-0.75,-0.85,
  0.1,-0.2,0.3,0.0,-0.3,0.15,-0.1,0.35,0.05,-0.25,0.2,-0.05,0.3,-0.3,0.1,0.4,-0.15,0.2,-0.05,0.3,-0.25,0.1,-0.1,0.25,-0.3,0.05,0.35,-0.15,0.15,-0.05,0.3,-0.25,0.1,-0.1,0.25,0.0,-0.3,0.15,-0.1,0.2,-0.2,0.05,-0.5,0.3,-0.15,0.1,-0.3,0.25,-0.05,0.15,-0.25,0.35,0.0,-0.2,0.2,-0.1,0.1,-0.3,0.3,-0.05,0.15,-0.2,0.05,0.65,-0.1,0.15,-0.25,0.0,-0.15,0.1,0.77,-0.2,0.05,-0.1,0.15,
  -0.05,0.2,-0.2,0.1,0.25,-0.1,0.05,-0.25,0.15,0.0,-0.15,0.2,0.05,-0.1,0.25,-0.2,0.1,-0.05,0.2,0.0,-0.2,0.15,0.3,-0.1,0.05,-0.25,0.2,0.0,-0.15,0.1,-0.05,0.2,0.05,-0.2,0.1,-0.1,0.2,0.0,-0.25,0.1,0.25,-0.1,0.05,-0.2,0.15,0.0,-0.1,0.2,-0.05,0.1,-0.2,0.15,0.05,-0.15,0.25,0.0,-0.1,0.1,-0.2,0.05,0.2,-0.1,0.0,-0.2,0.1,-0.05,0.15,-0.2,0.0,0.1,-0.15,-0.05];

// CCD1 Large Window (blue +)
const lwX = [60,75,90,103,110,118,125,140,155,170,185,200,220,240,260,280,
  320,345,370,395,420,445,470,500,530,560,590,620,650,
  900,930,960,990,1020,1050,1080,1110,1140,1170,1200,1230,1260,1290,1320,1350,1380,1410,
  1582,1620,1673,1696,1734,1795,1810,1856,1886,1939,1969,2007,2045,2083,2114,2144,2159,2174,2197,2227,2243,2265,2281,2311,2341,2379,2425,2448,2486,2524,2577,2607,2630,2668,2691,2706,2721,2736,2759,2789,2873,
  2920,2960,3000,3040,3080,3110];
const lwY = [0.4,0.55,0.45,0.85,1.0,0.75,0.6,0.5,0.45,0.55,0.4,0.5,0.4,0.35,0.3,0.35,
  0.1,0.0,-0.05,-0.15,-0.2,-0.25,-0.3,-0.3,-0.4,-0.45,-0.5,-0.55,-0.6,
  0.05,-0.05,-0.1,-0.15,-0.2,-0.25,-0.3,-0.35,-0.4,-0.45,-0.5,-0.5,-0.55,-0.6,-0.65,-0.7,-0.75,-0.8,
  -0.88,-0.92,-0.88,-0.92,-0.97,-1.01,-0.97,-1.01,-1.01,-1.1,-1.1,-1.06,-1.06,-1.1,-1.24,-1.1,-1.03,-1.09,-1.15,-1.19,-1.1,-1.18,-1.1,-1.15,-1.13,-1.33,-1.1,-1.19,-1.19,-1.15,-1.28,-1.24,-1.19,-1.24,-1.19,-1.28,-1.33,-1.24,-1.24,-1.19,-1.06,
  -0.3,-0.25,-0.35,-0.3,-0.35,-0.3];

// out-of-range markers on CCD6 (arrow tail -> head)
const arrowX = [946, 2245];
const arrowTailY = [-1.65, 1.19];
const arrowHeadY = [-2.13, 1.7];
const arrowColors = ['#d01010', '#e87a7a'];

// ---------------- build figure ----------------
const ffX = [ffX1, ffX2, ffX3, ffX4, ffX5, ffX6, ffX7];
const ffY = [ffY1, ffY2, ffY3, ffY4, ffY5, ffY6, ffY7];
function flatten(xs, cols) {
  const X = [], Y = [];
  for (let i = 0; i < xs.length; i++) {
    const c = cols[i] || [];
    for (const y of c) { X.push(xs[i]); Y.push(y); }
  }
  return [X, Y];
}
const FONT = 'Liberation Sans, Arial, Helvetica, sans-serif';
const N = 7;
const traces = [];
const layout = {
  width: 796, height: 1101,
  margin: {l: 102, r: 6, t: 36, b: 20},
  paper_bgcolor: '#fff', plot_bgcolor: '#fff',
  showlegend: false,
  font: {family: FONT, color: '#333'},
  shapes: [], annotations: []
};
for (let k = 1; k <= N; k++) {
  const xs = k === 1 ? 'x' : 'x' + k, ys = k === 1 ? 'y' : 'y' + k;
  const xk = k === 1 ? 'xaxis' : 'xaxis' + k, yk = k === 1 ? 'yaxis' : 'yaxis' + k;
  const top = 1 - (k - 1) / N, bot = 1 - k / N;
  layout[xk] = {
    domain: [0, 1], anchor: ys, range: [15, 3143], showgrid: false, zeroline: false,
    showline: true, linecolor: '#222', linewidth: 1, mirror: 'allticks',
    ticks: 'inside', ticklen: 5, tickcolor: '#333', tick0: 0, dtick: 500,
    minor: {dtick: 100, ticks: 'inside', ticklen: 5, tickcolor: '#333'},
    tickfont: {size: 12, color: '#444', family: FONT}
  };
  if (k > 1) layout[xk].matches = 'x';
  layout[yk] = {
    domain: [bot, top], anchor: xs, range: [-2.15, 1.86], showgrid: false, zeroline: false,
    showline: true, linecolor: '#222', linewidth: 1, mirror: 'allticks',
    ticks: 'inside', ticklen: 12, tickcolor: '#333',
    tickmode: 'array', tickvals: yTickVals, ticktext: yTickText,
    minor: {tickmode: 'linear', tick0: 0, dtick: 0.1, ticks: 'inside', ticklen: 6, tickcolor: '#333'},
    tickfont: {size: 12, color: '#444', family: FONT}
  };
  const [X, Y] = flatten(ffX[k - 1], ffY[k - 1]);
  // alternate the spoke orientation of neighbouring asterisks so dense clouds read as solid
  const angles = X.map((_, i) => (i % 2 ? 22.5 : 0));
  traces.push({type: 'scatter', mode: 'markers', x: X, y: Y, xaxis: xs, yaxis: ys,
    marker: {symbol: 'asterisk-open', size: 12, angle: angles, color: '#000', line: {color: '#000', width: 2}},
    name: 'Full Frame', hoverinfo: 'skip'});
  if (k === 1) {
    traces.push({type: 'scatter', mode: 'markers', x: swX, y: swY, xaxis: xs, yaxis: ys, name: 'Small Window',
      marker: {symbol: 'x-thin-open', size: 14, color: '#f03cb4', opacity: 0.8, line: {color: '#f03cb4', width: 1.6}}, hoverinfo: 'skip'});
    traces.push({type: 'scatter', mode: 'markers', x: lwX, y: lwY, xaxis: xs, yaxis: ys, name: 'Large Window',
      marker: {symbol: 'cross-thin-open', size: 10, color: '#2828c8', line: {color: '#2828c8', width: 1.4}}, hoverinfo: 'skip'});
  }
  for (const v of limitLines) {
    layout.shapes.push({type: 'line', xref: 'paper', x0: 0, x1: 1, yref: ys, y0: v, y1: v,
      line: {color: '#8fdcb0', width: 1.5}, layer: 'above'});
  }
  layout.annotations.push({text: ccdNames[k - 1], xref: 'paper', yref: 'paper',
    x: -0.0712, y: (top + bot) / 2, textangle: -90, showarrow: false,
    xanchor: 'center', yanchor: 'middle', font: {size: 19, color: '#d22030', family: FONT}});
}
for (const b of revBoundaries) {
  layout.shapes.push({type: 'line', xref: 'x', x0: b, x1: b, yref: 'paper', y0: 0, y1: 1,
    line: {color: '#333', width: 1, dash: 'dot'}, layer: 'above'});
}
for (let i = 0; i < arrowX.length; i++) {
  layout.annotations.push({xref: 'x6', yref: 'y6', axref: 'x6', ayref: 'y6',
    x: arrowX[i], y: arrowHeadY[i], ax: arrowX[i], ay: arrowTailY[i], text: '',
    showarrow: true, arrowhead: 2, arrowsize: 1, arrowwidth: 1.6, arrowcolor: arrowColors[i]});
}
const A = (text, x, y, size, color, anchor, extra) => Object.assign({text, x, y, xref: 'paper', yref: 'paper',
  showarrow: false, xanchor: anchor, yanchor: 'middle', font: {size, color, family: FONT}}, extra || {});
layout.annotations.push(
  A('MOS2', 0.116, 1.018, 24, '#d42a34', 'center'),
  A('<b>*</b>', 0.2485, 1.01, 28, '#000', 'center'),
  A('Full Frame', 0.2805, 1.018, 20, '#111', 'left'),
  A('+', 0.4651, 1.018, 24, '#2323b8', 'center'),
  A('Large Window', 0.4884, 1.018, 20, '#1c1ca6', 'left'),
  A('x', 0.7573, 1.016, 17, '#e23aa0', 'center'),
  A('Small Window', 0.779, 1.018, 20, '#e23aa0', 'left'),
  A('MEDIAN background map values (ADC)', -0.1047, 0.4746, 19, '#000', 'center', {textangle: -90})
);
Plotly.newPlot('chart', traces, layout, {staticPlot: true, displayModeBar: false});
</script>
</body></html>
